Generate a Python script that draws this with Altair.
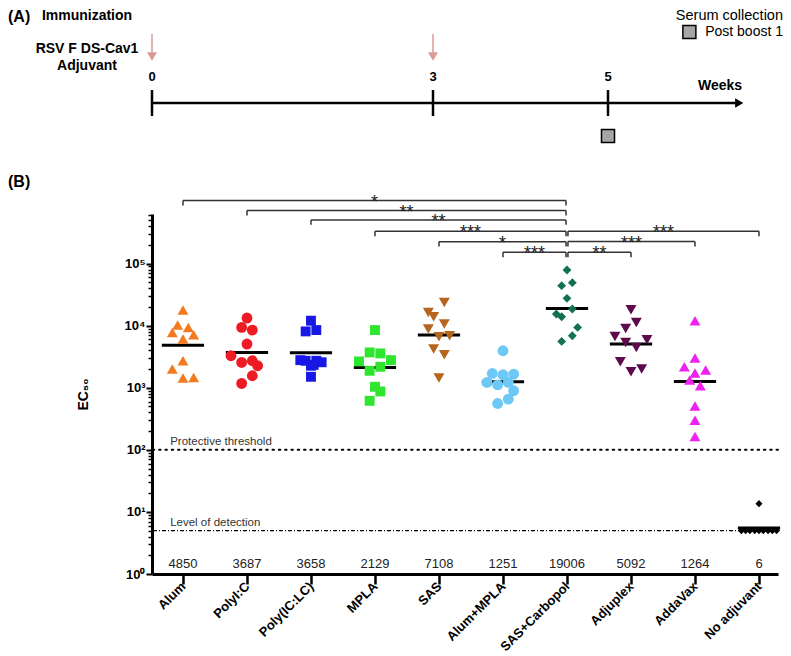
import altair as alt
import pandas as pd

FONT = "Liberation Sans"

# ---------------- Panel B data ----------------
groups = ["Alum", "PolyI:C", "Poly(IC:LC)", "MPLA", "SAS", "Alum+MPLA",
          "SAS+Carbopol", "Adjuplex", "AddaVax", "No adjuvant"]
colors = ["#f47a20", "#ed1c24", "#1818e6", "#2ee62e", "#b5651d", "#6cc8f5",
          "#137153", "#5e0b4e", "#ee22ee", "#000000"]
shapes = ["triangle-up", "circle", "square", "square", "triangle-down", "circle",
          "diamond", "triangle-down", "triangle-up", "diamond"]
sizes = [120, 118, 98, 98, 120, 118, 78, 120, 120, 50]

alum = [17900, 10260, 9400, 7800, 7160, 6100, 2725, 2000, 1433, 1465]
polyic = [13300, 9400, 8510, 5070, 3280, 2560, 2725, 2265, 1563, 1175]
polyiclc = [12050, 8100, 8510, 2790, 2725, 2265, 2725, 2580, 2340, 1505]
mpla = [8510, 3715, 3580, 2660, 2790, 2180, 1880, 1038, 873, 617]
sas = [23760, 16400, 13960, 10650, 8850, 6900, 6650, 4210, 3400, 1433]
alum_mpla = [3950, 1700, 1620, 1663, 1220, 1117, 1220, 895, 656, 558]
sas_carbopol = [79100, 49400, 44200, 27600, 18600, 15450, 13960, 9400, 6900, 5580]
adjuplex = [18100, 11300, 9060, 6730, 5940, 5380, 4470, 2625, 2000, 1810]
addavax = [12050, 3015, 2180, 1930, 1725, 1330, 1076, 507, 301, 164]
no_adjuvant = [13.6, 5, 5, 5, 5, 5, 5, 5, 5, 5]

# horizontal spread of points inside a column (units of 1/12 category step)
off_alum = [0, -1, 1, -2, 2, 0, 0, -2, 0, 2]
off_polyic = [0, -1, 1, 0, -3, -1, 1, 2, 1, -1]
off_polyiclc = [0, -1, 1, -2, -1, 0, 1, 2, 0.5, 0]
off_mpla = [0, -1, 1, -3, 3, 1, -1, 0, 1, -1]
off_sas = [1, -2, -1, 1, -2, 2, 0, -1, 1, 0]
off_alum_mpla = [0, -2, 0, 2, -3, -1, 1, 2, 1, -1]
off_sas_carbopol = [0, 1, -1, 0, 1, -2, -1, 2, 1, -1]
off_adjuplex = [0, 1, -1, -3, 3, -1, 1, -2, 2, 0]
off_addavax = [0, 0, -2, 2, 0, -1, 1, 0, 0, 0]
off_no_adjuvant = [0, -3.3, -2.5, -1.7, -0.8, 0, 0.8, 1.7, 2.5, 3.3]

values = [alum, polyic, polyiclc, mpla, sas, alum_mpla, sas_carbopol,
          adjuplex, addavax, no_adjuvant]
offsets = [off_alum, off_polyic, off_polyiclc, off_mpla, off_sas, off_alum_mpla,
           off_sas_carbopol, off_adjuplex, off_addavax, off_no_adjuvant]

gmt = [4850, 3687, 3658, 2129, 7108, 1251, 19006, 5092, 1264, 5.53]
gmt_text = ["4850", "3687", "3658", "2129", "7108", "1251", "19006", "5092", "1264", "6"]

threshold_value = [100]
threshold_name = ["Protective threshold"]
lod_value = [5]
lod_name = ["Level of detection"]

br_left = [0, 1, 2, 3, 4, 5, 6, 6, 6]
br_right = [6, 6, 6, 6, 6, 6, 9, 8, 7]
br_level = [1.04e6, 7.16e5, 5.07e5, 3.32e5, 2.26e5, 1.52e5, 3.32e5, 2.27e5, 1.52e5]
br_stars = ["*", "**", "**", "***", "*", "***", "***", "***", "**"]

y_major = [1, 10, 100, 1000, 10000, 100000]
y_minor = [m * 10 ** k for k in range(0, 5) for m in range(2, 10)] + [m * 100000 for m in range(2, 7)]

# ---------------- Panel A data ----------------
timeline_weeks = [0, 3, 5]
timeline_end = [6.5]
immunization_weeks = [0, 3]
collection_weeks = [5]

# ---------------- tables ----------------
rows = []
for i, (g, vals, offs) in enumerate(zip(groups, values, offsets)):
    for v, o in zip(vals, offs):
        rows.append({"group": g, "idx": i, "ec50": v, "off": o, "sz": sizes[i]})
pts = pd.DataFrame(rows)
med = pd.DataFrame({"idx": list(range(len(groups))), "gmt": gmt, "label": gmt_text})
brk = pd.DataFrame({"a": br_left, "b": br_right, "level": br_level, "stars": br_stars})
thr = pd.DataFrame({"v": threshold_value, "name": threshold_name})
lod = pd.DataFrame({"v": lod_value, "name": lod_name})
minor_df = pd.DataFrame({"v": y_minor})

W, H = 626, 360
xscale = alt.Scale(domain=[-0.484, 9.297], nice=False, zero=False)
yscale = alt.Scale(type="log", domain=[1, 631000], nice=False)

label_expr = "[" + ",".join("'" + g + "'" for g in groups) + "][datum.value]"
xaxis = alt.Axis(values=list(range(len(groups))), labelExpr=label_expr, title=None,
                 grid=False, domainWidth=3, domainColor="black", tickColor="black",
                 tickWidth=2.5, tickSize=10, labelAngle=315, labelAlign="right",
                 labelBaseline="middle", labelFont=FONT, labelFontSize=13,
                 labelFontWeight="bold", labelColor="black", labelPadding=0,
                 labelOverlap=False)
sup = "['\u2070','\u00b9','\u00b2','\u00b3','\u2074','\u2075']"
yaxis_major = alt.Axis(values=y_major, labelExpr="'10' + " + sup + "[round(log(datum.value)/LN10)]",
                       title="EC\u2085\u2080", titleFont=FONT, titleFontSize=14,
                       titleFontWeight="bold", titleColor="black", titlePadding=34,
                       grid=False, domainWidth=3, domainColor="black", tickColor="black",
                       tickWidth=2, tickSize=6, labelFont=FONT, labelFontSize=13,
                       labelFontWeight="bold", labelColor="black", labelPadding=1,
                       orient="left", labelOverlap=False)
yaxis_minor = alt.Axis(values=y_minor, labels=False, domain=False, tickSize=4,
                       tickWidth=1.5, tickColor="black", title=None, grid=False,
                       orient="left")

points = alt.Chart(pts).transform_calculate(
    x="datum.idx + datum.off / 12"
).mark_point(filled=True, opacity=1, strokeWidth=0).encode(
    x=alt.X("x:Q", scale=xscale, axis=xaxis),
    y=alt.Y("ec50:Q", scale=yscale, axis=yaxis_major),
    color=alt.Color("group:N", scale=alt.Scale(domain=groups, range=colors), legend=None),
    shape=alt.Shape("group:N", scale=alt.Scale(domain=groups, range=shapes), legend=None),
    size=alt.Size("sz:Q", scale=None, legend=None),
)

minor_axis = alt.Chart(minor_df).mark_point(opacity=0).encode(
    y=alt.Y("v:Q", scale=yscale, axis=yaxis_minor)
)

medians = alt.Chart(med).transform_calculate(
    xl="datum.idx - 0.33", xr="datum.idx + 0.33"
).mark_rule(strokeWidth=3, color="black").encode(
    x=alt.X("xl:Q", scale=xscale), x2="xr:Q",
    y=alt.Y("gmt:Q", scale=yscale, axis=None),
)

med_text = alt.Chart(med).mark_text(font=FONT, fontSize=13, color="#222222",
                                    baseline="bottom", dy=-3).encode(
    x=alt.X("idx:Q", scale=xscale),
    y=alt.YDatum(1, scale=yscale, axis=None),
    text="label:N",
)

thr_rule = alt.Chart(thr).mark_rule(strokeWidth=2, color="black", strokeDash=[1.5, 4.8],
                                    strokeCap="round").encode(
    y=alt.Y("v:Q", scale=yscale, axis=None))
thr_text = alt.Chart(thr).mark_text(font=FONT, fontSize=11.5, color="#333333", align="left",
                                    baseline="bottom", dy=-3).encode(
    x=alt.XDatum(-0.2, scale=xscale),
    y=alt.Y("v:Q", scale=yscale, axis=None), text="name:N")
lod_rule = alt.Chart(lod).mark_rule(strokeWidth=1.2, color="black",
                                    strokeDash=[4, 2, 1, 2]).encode(
    y=alt.Y("v:Q", scale=yscale, axis=None))
lod_text = alt.Chart(lod).mark_text(font=FONT, fontSize=11.5, color="#333333", align="left",
                                    baseline="bottom", dy=-3).encode(
    x=alt.XDatum(-0.2, scale=xscale),
    y=alt.Y("v:Q", scale=yscale, axis=None), text="name:N")

brk_base = alt.Chart(brk).transform_calculate(
    x1="datum.a + (datum.a == 6 ? 0.015 : 0)",
    x2="datum.b - (datum.b == 6 ? 0.015 : 0)",
    xm="(datum.a + (datum.a == 6 ? 0.015 : 0) + datum.b - (datum.b == 6 ? 0.015 : 0)) / 2",
    low="datum.level / 1.2",
)
brk_h = brk_base.mark_rule(strokeWidth=1.5, color="#333333").encode(
    x=alt.X("x1:Q", scale=xscale), x2="x2:Q",
    y=alt.Y("level:Q", scale=yscale, axis=None))
brk_l = brk_base.mark_rule(strokeWidth=1.5, color="#333333").encode(
    x=alt.X("x1:Q", scale=xscale),
    y=alt.Y("level:Q", scale=yscale, axis=None), y2="low:Q")
brk_r = brk_base.mark_rule(strokeWidth=1.5, color="#333333").encode(
    x=alt.X("x2:Q", scale=xscale),
    y=alt.Y("level:Q", scale=yscale, axis=None), y2="low:Q")
brk_t = brk_base.mark_text(font=FONT, fontSize=18, color="#222222",
                           baseline="alphabetic", dy=7).encode(
    x=alt.X("xm:Q", scale=xscale),
    y=alt.Y("level:Q", scale=yscale, axis=None), text="stars:N")

label_b = alt.Chart(pd.DataFrame({"t": ["(B)"]})).mark_text(
    font=FONT, fontSize=16, fontWeight="bold", align="left", baseline="middle",
    color="black").encode(x=alt.value(-144), y=alt.value(-32), text="t:N")

bottom = alt.layer(
    thr_rule, lod_rule, thr_text, lod_text, medians, points, minor_axis, med_text,
    brk_h, brk_l, brk_r, brk_t, label_b
).resolve_axis(y="independent").properties(width=W, height=H)

# ---------------- Panel A ----------------
xs_top = alt.Scale(domain=[0, 3, 5, 7], range=[0, 281, 456, 631])
ys_top = alt.Scale(domain=[0, 13.5], reverse=True, nice=False, zero=False)
pink = "#d99a98"


def yd(v):
    return alt.YDatum(v, scale=ys_top, axis=None)


tl_df = pd.DataFrame({"w": timeline_weeks})
end_df = pd.DataFrame({"w0": [0], "w1": timeline_end})
imm_df = pd.DataFrame({"w": immunization_weeks})
col_df = pd.DataFrame({"w": collection_weeks})

tl_line = alt.Chart(end_df).mark_rule(strokeWidth=2.5, color="black").encode(
    x=alt.X("w0:Q", scale=xs_top, axis=None), x2="w1:Q", y=yd(9.4))
tl_head = alt.Chart(end_df).mark_point(shape="triangle-right", filled=True, size=90,
                                       color="black", opacity=1).encode(
    x=alt.X("w1:Q", scale=xs_top, axis=None), y=yd(9.4))
tl_ticks = alt.Chart(tl_df).mark_rule(strokeWidth=2.5, color="black").encode(
    x=alt.X("w:Q", scale=xs_top, axis=None), y=yd(8.1), y2=alt.Y2Datum(10.7))
tl_labels = alt.Chart(tl_df).mark_text(font=FONT, fontSize=13, fontWeight="bold",
                                       color="black").encode(
    x=alt.X("w:Q", scale=xs_top, axis=None), y=yd(6.8), text="w:Q")
weeks_text = alt.Chart(pd.DataFrame({"t": ["Weeks"]})).mark_text(
    font=FONT, fontSize=14, fontWeight="bold", color="black").encode(
    x=alt.XDatum(6.28, scale=xs_top, axis=None), y=yd(7.7), text="t:N")
imm_shaft = alt.Chart(imm_df).mark_rule(strokeWidth=1.5, color=pink).encode(
    x=alt.X("w:Q", scale=xs_top, axis=None), y=yd(2.5), y2=alt.Y2Datum(4.4))
imm_head = alt.Chart(imm_df).mark_point(shape="triangle-down", filled=True, size=100,
                                        color=pink, opacity=1).encode(
    x=alt.X("w:Q", scale=xs_top, axis=None), y=yd(4.75))
col_sq = alt.Chart(col_df).mark_square(size=170, fill="#a6a6a6", stroke="black",
                                       strokeWidth=1.5, opacity=1).encode(
    x=alt.X("w:Q", scale=xs_top, axis=None), y=yd(12.7))
leg_sq = alt.Chart(pd.DataFrame({"t": ["Post boost 1"]})).mark_square(
    size=170, fill="#a6a6a6", stroke="black", strokeWidth=1.5, opacity=1).encode(
    x=alt.XDatum(5.93, scale=xs_top, axis=None), y=yd(2.3))
leg_text = alt.Chart(pd.DataFrame({"t": ["Post boost 1"]})).mark_text(
    font=FONT, fontSize=14, align="right", color="black").encode(
    x=alt.XDatum(7, scale=xs_top, axis=None), y=yd(2.3), text="t:N")
serum_text = alt.Chart(pd.DataFrame({"t": ["Serum collection"]})).mark_text(
    font=FONT, fontSize=14.5, align="right", baseline="top", color="black").encode(
    x=alt.XDatum(7, scale=xs_top, axis=None), y=yd(0), text="t:N")
imm_title = alt.Chart(pd.DataFrame({"t": ["Immunization"]})).mark_text(
    font=FONT, fontSize=14, fontWeight="bold", baseline="top", color="black", dx=-65).encode(
    x=alt.XDatum(0, scale=xs_top, axis=None), y=yd(0), text="t:N")
vac_text = alt.Chart(pd.DataFrame({"t": ["RSV F DS-Cav1", "Adjuvant"], "r": [4.0, 5.7]})).mark_text(
    font=FONT, fontSize=14, fontWeight="bold", color="black", dx=-65).encode(
    x=alt.XDatum(0, scale=xs_top, axis=None),
    y=alt.Y("r:Q", scale=ys_top, axis=None), text="t:N")
label_a = alt.Chart(pd.DataFrame({"t": ["(A)"]})).mark_text(
    font=FONT, fontSize=16, fontWeight="bold", align="left", baseline="top",
    color="black").encode(x=alt.value(-144), y=yd(0), text="t:N")

top = alt.layer(
    tl_line, tl_head, tl_ticks, tl_labels, weeks_text, imm_shaft, imm_head,
    col_sq, leg_sq, leg_text, serum_text, imm_title, vac_text, label_a
).properties(width=631, height=135)

chart = alt.vconcat(top, bottom, spacing=28).properties(padding=0).configure(
    font=FONT, view=alt.ViewConfig(stroke=None))

chart.save("out.html", embed_options={"renderer": "svg", "actions": False})
